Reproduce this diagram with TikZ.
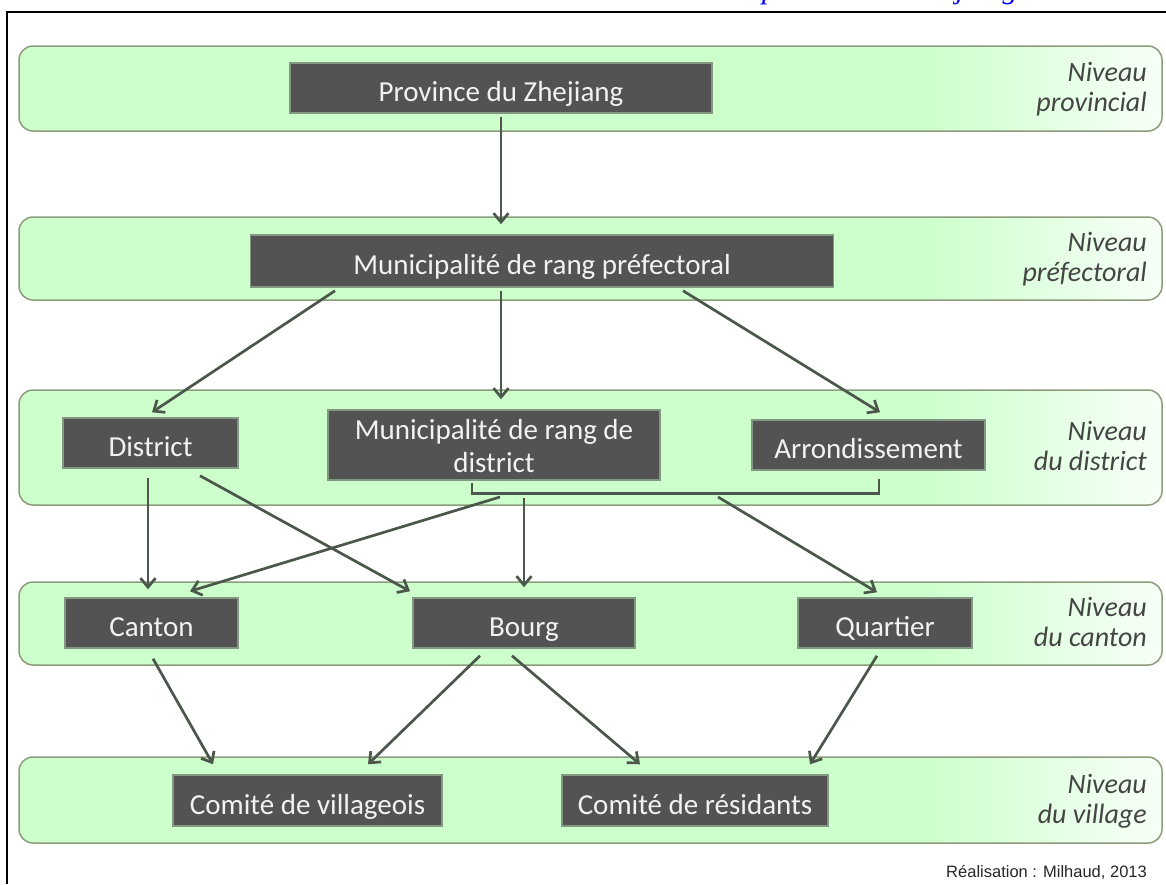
\documentclass[tikz,border=0pt]{standalone}
\usepackage{fontspec}
\setmainfont{Carlito}
\newfontfamily\creditfont{Liberation Sans}
\newfontfamily\headfont{Liberation Serif}
\usetikzlibrary{arrows.meta,calc}
\definecolor{bandgreen}{HTML}{CCFFCC}
\definecolor{bandborder}{HTML}{8C9C7C}
\definecolor{boxgray}{HTML}{535353}
\definecolor{boxtext}{HTML}{F2F2F2}
\definecolor{arrowcol}{HTML}{4B574B}
\definecolor{labelcol}{HTML}{454545}
\definecolor{creditcol}{HTML}{262626}
\begin{document}
\begin{tikzpicture}[x=1pt,y=-1pt,
  box/.style={rectangle, fill=boxgray, draw=boxgray!60!bandgreen, line width=1.5pt,
    text=boxtext, inner sep=0pt,
    font=\fontsize{29}{33}\selectfont, text height=27pt, text depth=0pt},
  lvl/.style={anchor=east, align=right, text=labelcol, inner sep=0pt,
    font=\fontsize{28}{30}\selectfont\itshape, text height=48pt, text depth=2pt},
  arr/.style={draw=arrowcol, line width=2.7pt, -{Straight Barb[length=9pt,width=15pt]}},
  bracket/.style={draw=arrowcol, line width=2.7pt},
  bandline/.style={draw=bandborder, line width=1.5pt, rounded corners=14pt}
]
\useasboundingbox (0,0) rectangle (1166,884);
% header fragment and frame
\node[anchor=base west, inner sep=0pt, text=blue,
  font=\headfont\itshape\fontsize{30}{30}\selectfont] (hd) at (762,-1.5) {province du Zhejiang};
\draw[line width=2.5pt] (7,884) -- (7,12) -- (1166,12);
% bands
\foreach \ya/\yb in {46/131, 217/300, 390/505, 582/665, 757/843}{
  \fill[bandgreen, rounded corners=14pt] (19,\ya) rectangle (1162,\yb);
  \begin{scope}
    \clip[rounded corners=14pt] (19,\ya) rectangle (1162,\yb);
    \shade[left color=bandgreen, right color=bandgreen!15!white] (920,\ya) rectangle (1162,\yb);
  \end{scope}
  \draw[bandline] (19,\ya) rectangle (1162,\yb);
}
% level labels
\node[lvl] (l1) at (1147,88.5) {Niveau\\provincial};
\node[lvl] (l2) at (1147,258.5) {Niveau\\préfectoral};
\node[lvl] (l3) at (1147,447.5) {Niveau\\du district};
\node[lvl] (l4) at (1147,623.5) {Niveau\\du canton};
\node[lvl] (l5) at (1147,800) {Niveau\\du village};
% boxes
\node[box, minimum width=422pt, minimum height=50pt] (pz) at (501,88) {Province du Zhejiang};
\node[box, minimum width=583pt, minimum height=52pt] (mp) at (542,261) {Municipalité de rang préfectoral};
\node[box, minimum width=175pt, minimum height=50pt] (di) at (150.5,443) {District};
\node[box, minimum width=332pt, minimum height=70pt, align=center, text height=60pt, text depth=6pt] (md) at (494,445) {Municipalité de rang de\\district};
\node[box, minimum width=233pt, minimum height=50pt] (ar) at (868.5,445) {Arrondissement};
\node[box, minimum width=173pt, minimum height=50pt] (ca) at (151.5,623) {Canton};
\node[box, minimum width=222pt, minimum height=50pt] (bo) at (524,623) {Bourg};
\node[box, minimum width=174pt, minimum height=50pt] (qu) at (885,623) {Quartier};
\node[box, minimum width=269pt, minimum height=51pt] (cv) at (307.5,800.5) {Comité de villageois};
\node[box, minimum width=266pt, minimum height=51pt] (cr) at (695,800.5) {Comité de résidants};
% credit
\node[anchor=base east, inner sep=0pt, text=creditcol,
  font=\creditfont\fontsize{16.5}{18}\selectfont] (credit) at (1147,877) {Réalisation : Milhaud, 2013};
% arrows
\draw[arr] ([yshift=-3pt]pz.south) -- ([xshift=-41pt,yshift=10pt]mp.north);
\draw[arr] ([xshift=-207pt,yshift=-3pt]mp.south) -- ([xshift=1.5pt,yshift=5pt]di.north);
\draw[arr] ([xshift=-41pt,yshift=-3pt]mp.south) -- ([xshift=7pt,yshift=10pt]md.north);
\draw[arr] ([xshift=141pt,yshift=-3pt]mp.south) -- ([xshift=11.5pt,yshift=7pt]ar.north);
% bracket
\coordinate (bl) at ([xshift=-22pt,yshift=-2pt]md.south);
\coordinate (br) at ([xshift=10.5pt,yshift=-8pt]ar.south);
\coordinate (bm) at ($(br)+(0,15)$);
\draw[bracket] (bl) |- (bm) -- (br);
\coordinate (o1) at (500,497);
\coordinate (o2) at (524,498);
\coordinate (o3) at (718,497);
\draw[arr] (o1) -- ([xshift=38.5pt,yshift=6pt]ca.north);
\draw[arr] (o2) -- ([yshift=10pt]bo.north);
\draw[arr] (o3) -- ([xshift=-8pt,yshift=5pt]qu.north);
\draw[arr] ([xshift=-2.5pt,yshift=-9pt]di.south) -- ([xshift=-3.5pt,yshift=8pt]ca.north);
\draw[arr] ([xshift=49.5pt,yshift=-7pt]di.south) -- ([xshift=-114pt,yshift=6pt]bo.north);
\draw[arr] ([xshift=1.5pt,yshift=-10pt]ca.south) -- ([xshift=-94.5pt,yshift=10pt]cv.north);
\draw[arr] ([xshift=-44pt,yshift=-7pt]bo.south) -- ([xshift=60.5pt,yshift=10pt]cv.north);
\draw[arr] ([xshift=-12pt,yshift=-7pt]bo.south) -- ([xshift=-55pt,yshift=10pt]cr.north);
\draw[arr] ([xshift=-8pt,yshift=-7pt]qu.south) -- ([xshift=115pt,yshift=10pt]cr.north);
\end{tikzpicture}
\end{document}
